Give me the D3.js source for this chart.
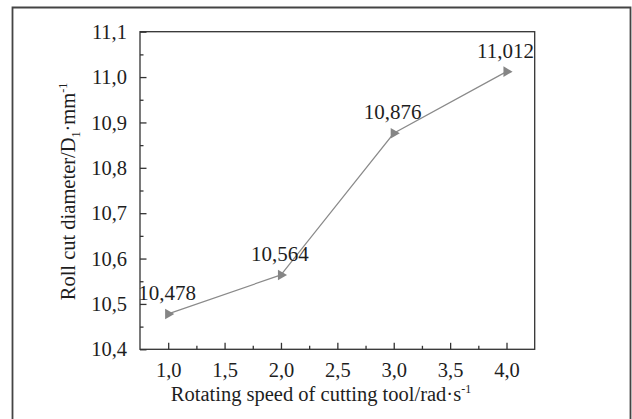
<html>
<head>
<script src="https://d3js.org/d3.v7.min.js"></script>
<style>
  body { margin: 0; background: #fff; }
  svg text { font-family: "Liberation Serif", "Times New Roman", serif; fill: #1e1e1e; }
  .axis path, .axis line { stroke: #333; stroke-width: 1.3px; }
</style>
</head>
<body>
<svg width="632" height="419"></svg>
<script>
var speeds = [1.0, 2.0, 3.0, 4.0];
var diameters = [10.478, 10.564, 10.876, 11.012];
var pointLabels = ["10,478", "10,564", "10,876", "11,012"];
var xTicks = [1.0, 1.5, 2.0, 2.5, 3.0, 3.5, 4.0];
var yTicks = [10.4, 10.5, 10.6, 10.7, 10.8, 10.9, 11.0, 11.1];

var svg = d3.select("svg"),
    width = +svg.attr("width"),
    height = +svg.attr("height");

var serif = "'Liberation Serif', 'Times New Roman', serif";
var margin = {left: 140, top: 31.7, right: 534.7, bottom: 349.3};

// outer frame (no bottom edge visible)
svg.append("path")
    .attr("d", "M12.5,419 V7.5 H630.5 V419")
    .attr("fill", "none")
    .attr("stroke", "#444")
    .attr("stroke-width", 1.8);

var x = d3.scaleLinear().domain([0.75, 4.25]).range([margin.left, margin.right]);
var y = d3.scaleLinear().domain([10.4, 11.1]).range([margin.bottom, margin.top]);

var comma = function(d) { return d3.format(".1f")(d).replace(".", ","); };

// plot box
svg.append("rect")
    .attr("x", margin.left).attr("y", margin.top)
    .attr("width", margin.right - margin.left)
    .attr("height", margin.bottom - margin.top)
    .attr("fill", "none").attr("stroke", "#333").attr("stroke-width", 1.3);

// minor ticks
svg.append("g").attr("class", "axis")
    .attr("transform", "translate(0," + margin.bottom + ")")
    .call(d3.axisBottom(x).tickValues(d3.range(1.25, 4.25, 0.5)).tickSize(-3.5).tickFormat(""))
    .call(function(g) { g.select(".domain").remove(); });
svg.append("g").attr("class", "axis")
    .attr("transform", "translate(" + margin.left + ",0)")
    .call(d3.axisLeft(y).tickValues(d3.range(10.45, 11.1, 0.1)).tickSize(-3.5).tickFormat(""))
    .call(function(g) { g.select(".domain").remove(); });

// major ticks
var xAxis = svg.append("g").attr("class", "axis")
    .attr("transform", "translate(0," + margin.bottom + ")")
    .call(d3.axisBottom(x).tickValues(xTicks).tickSize(-6.5).tickPadding(13).tickFormat(comma));
xAxis.select(".domain").remove();
xAxis.attr("font-family", serif).attr("font-size", 20.5);
xAxis.selectAll("text").attr("dy", "0.71em");

var yAxis = svg.append("g").attr("class", "axis")
    .attr("transform", "translate(" + margin.left + ",0)")
    .call(d3.axisLeft(y).tickValues(yTicks).tickSize(-6.5).tickPadding(13).tickFormat(comma));
yAxis.select(".domain").remove();
yAxis.attr("font-family", serif).attr("font-size", 20.5);

// line
var line = d3.line()
    .x(function(d, i) { return x(speeds[i]); })
    .y(function(d) { return y(d); });
svg.append("path")
    .datum(diameters)
    .attr("d", line)
    .attr("fill", "none")
    .attr("stroke", "#8a8a8a")
    .attr("stroke-width", 1.2);

// markers
svg.selectAll(".marker")
    .data(diameters)
    .enter().append("path")
    .attr("class", "marker")
    .attr("d", d3.symbol().type(d3.symbolTriangle).size(48))
    .attr("transform", function(d, i) { return "translate(" + x(speeds[i]) + "," + y(d) + ") rotate(90)"; })
    .attr("fill", "#858585");

// value labels
svg.selectAll(".lbl")
    .data(diameters)
    .enter().append("text")
    .attr("class", "lbl")
    .attr("x", function(d, i) { return x(speeds[i]) - 1; })
    .attr("y", function(d) { return y(d) - 14; })
    .attr("text-anchor", "middle")
    .attr("font-family", serif)
    .attr("font-size", 21)
    .text(function(d, i) { return pointLabels[i]; });

// x title
var xt = svg.append("text")
    .attr("x", 321)
    .attr("y", 401)
    .attr("text-anchor", "middle")
    .attr("font-family", serif)
    .attr("font-size", 20.5);
xt.append("tspan").text("Rotating speed of cutting tool/rad\u00b7s");
xt.append("tspan").attr("font-size", 12).attr("dy", -8).text("-1");

// y title
var yt = svg.append("text")
    .attr("transform", "translate(75," + ((margin.top + margin.bottom) / 2 + 1) + ") rotate(-90)")
    .attr("text-anchor", "middle")
    .attr("font-family", serif)
    .attr("font-size", 20.5);
yt.append("tspan").text("Roll cut diameter/D");
yt.append("tspan").attr("font-size", 12).attr("dy", 5).text("1");
yt.append("tspan").attr("dy", -5).text("\u00b7mm");
yt.append("tspan").attr("font-size", 12).attr("dy", -8).text("-1");
</script>
</body>
</html>
